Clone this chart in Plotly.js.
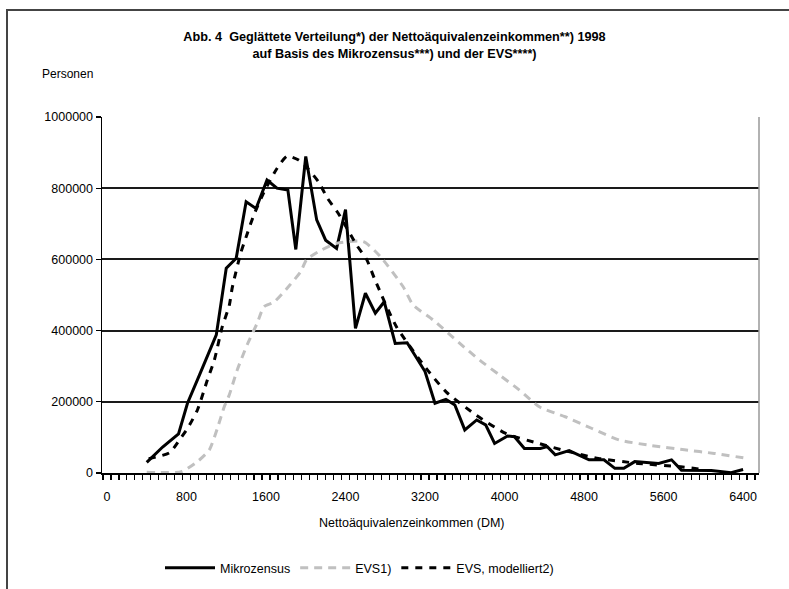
<!DOCTYPE html>
<html>
<head>
<meta charset="utf-8">
<script src="https://cdn.plot.ly/plotly-3.0.1.min.js"></script>
<style>
  html, body { margin: 0; padding: 0; background: #fff; }
  #chart { width: 789px; height: 589px; position: absolute; left: 0; top: 0; }
  #frame { position: absolute; left: 6px; top: 9px; width: 800px; height: 600px;
           border-top: 2px solid #444; border-left: 2px solid #444; pointer-events: none; }
</style>
</head>
<body>
<div id="chart"></div>
<div id="frame"></div>
<script>
// Mikrozensus (solid black)
const mzX = [400, 560, 720, 810, 930, 1100, 1200, 1300, 1400, 1500, 1610, 1710, 1820, 1900, 2000, 2110, 2200, 2310, 2400, 2500, 2600, 2700, 2790, 2900, 3020, 3200, 3300, 3410, 3500, 3600, 3720, 3810, 3900, 4030, 4100, 4200, 4360, 4430, 4510, 4650, 4850, 5000, 5110, 5200, 5310, 5550, 5680, 5780, 6080, 6280, 6400];
const mzY = [30000, 73000, 110000, 196000, 275000, 388000, 575000, 603000, 762000, 743000, 823000, 800000, 795000, 628000, 889000, 711000, 654000, 631000, 740000, 406000, 505000, 449000, 481000, 364000, 366000, 285000, 196000, 207000, 191000, 121000, 149000, 135000, 83000, 104000, 102000, 69000, 69000, 74000, 51000, 63000, 37000, 37000, 13000, 13000, 32000, 27000, 37000, 8000, 7000, 1000, 10000];

// EVS1) (grey dashed)
const evsX = [400, 750, 910, 1030, 1110, 1180, 1230, 1310, 1410, 1510, 1580, 1680, 1840, 1950, 2010, 2150, 2310, 2580, 2750, 2980, 3080, 3280, 3550, 3750, 3950, 4150, 4350, 4610, 4880, 5150, 5480, 5810, 6110, 6440];
const evsY = [2000, 4000, 32000, 65000, 125000, 186000, 219000, 289000, 360000, 420000, 467000, 480000, 528000, 566000, 600000, 625000, 645000, 650000, 608000, 523000, 472000, 430000, 364000, 317000, 275000, 233000, 186000, 158000, 125000, 93000, 77000, 65000, 55000, 41000];

// EVS, modelliert2) (black dashed)
const modX = [420, 630, 730, 810, 910, 1010, 1080, 1160, 1230, 1260, 1345, 1412, 1478, 1590, 1712, 1812, 1928, 2020, 2128, 2218, 2328, 2512, 2612, 2700, 2912, 3212, 3412, 3712, 4012, 4345, 4645, 4945, 5345, 5745, 6000];
const modY = [40000, 57000, 93000, 125000, 177000, 261000, 317000, 411000, 470000, 520000, 617000, 673000, 725000, 795000, 856000, 890000, 879000, 855000, 818000, 772000, 729000, 640000, 600000, 540000, 411000, 294000, 228000, 163000, 111000, 83000, 60000, 41000, 27000, 18000, 10000];

const xTickVals = [0, 800, 1600, 2400, 3200, 4000, 4800, 5600, 6400];
const yTickVals = [0, 200000, 400000, 600000, 800000, 1000000];

const FONT = 'Liberation Sans, Arial, sans-serif';

const traces = [
  { x: mzX, y: mzY, type: 'scatter', mode: 'lines', name: 'Mikrozensus',
    line: { color: '#000', width: 3 } },
  { x: evsX, y: evsY, type: 'scatter', mode: 'lines', name: 'EVS1)',
    line: { color: '#c0c0c0', width: 3, dash: '8px,6px', shape: 'spline', smoothing: 0.6 } },
  { x: modX, y: modY, type: 'scatter', mode: 'lines', name: 'EVS, modelliert2)',
    line: { color: '#000', width: 3, dash: '7px,7px', shape: 'spline', smoothing: 0.6 } }
];

const layout = {
  width: 789, height: 589,
  margin: { l: 102, r: 30, t: 117, b: 116, pad: 0, autoexpand: false },
  paper_bgcolor: '#fff', plot_bgcolor: '#fff',
  font: { family: FONT, size: 12, color: '#000' },
  showlegend: true,
  title: {
    text: '<b>Abb. 4  Geglättete Verteilung*) der Nettoäquivalenzeinkommen**) 1998<br>auf Basis des Mikrozensus***) und der EVS****)</b>',
    font: { family: FONT, size: 12.7, color: '#000' },
    x: 0.5, xref: 'container', xanchor: 'center',
    y: 0.93, yref: 'container', yanchor: 'top'
  },
  xaxis: {
    range: [-50, 6560],
    tickvals: xTickVals, ticktext: xTickVals.map(String),
    ticks: 'outside', ticklen: 11, tickcolor: 'rgba(0,0,0,0)',
    minor: { tick0: -40, dtick: 80, ticks: 'outside', ticklen: 5, tickcolor: '#000', tickwidth: 1.2, showgrid: false },
    showline: true, linecolor: '#000', linewidth: 1.5,
    showgrid: false, zeroline: false,
    tickfont: { family: FONT, size: 12.5, color: '#000' },
    automargin: false
  },
  yaxis: {
    range: [0, 1000000],
    tickvals: yTickVals, ticktext: yTickVals.map(String),
    ticks: 'outside', ticklen: 5, tickcolor: '#000', tickwidth: 1.2,
    showline: true, linecolor: '#000', linewidth: 1.5,
    showgrid: true, gridcolor: '#1a1a1a', gridwidth: 2,
    zeroline: false,
    tickfont: { family: FONT, size: 12.5, color: '#000' },
    automargin: false
  },
  shapes: [
    { type: 'line', xref: 'paper', yref: 'paper', x0: 1, x1: 1, y0: 0, y1: 1,
      line: { color: '#999', width: 1.5 } }
  ],
  annotations: [
    { text: 'Personen', xref: 'paper', yref: 'paper', x: -0.095, y: 1.12,
      xanchor: 'left', yanchor: 'middle', showarrow: false,
      font: { family: FONT, size: 12, color: '#000' } },
    { text: 'Nettoäquivalenzeinkommen (DM)', xref: 'paper', yref: 'paper',
      x: (412 - 102) / 657, y: -(523 - 473) / 356, xanchor: 'center', yanchor: 'middle',
      showarrow: false, font: { family: FONT, size: 12.5, color: '#000' } }
  ],
  legend: {
    orientation: 'h', xref: 'container', x: 160 / 789, xanchor: 'left',
    yref: 'container', y: 1 - 568 / 589, yanchor: 'middle',
    itemwidth: 50,
    font: { family: FONT, size: 12.5, color: '#000' },
    bgcolor: 'rgba(0,0,0,0)', tracegroupgap: 0
  }
};

Plotly.newPlot('chart', traces, layout, { displayModeBar: false, staticPlot: true });
</script>
</body>
</html>
